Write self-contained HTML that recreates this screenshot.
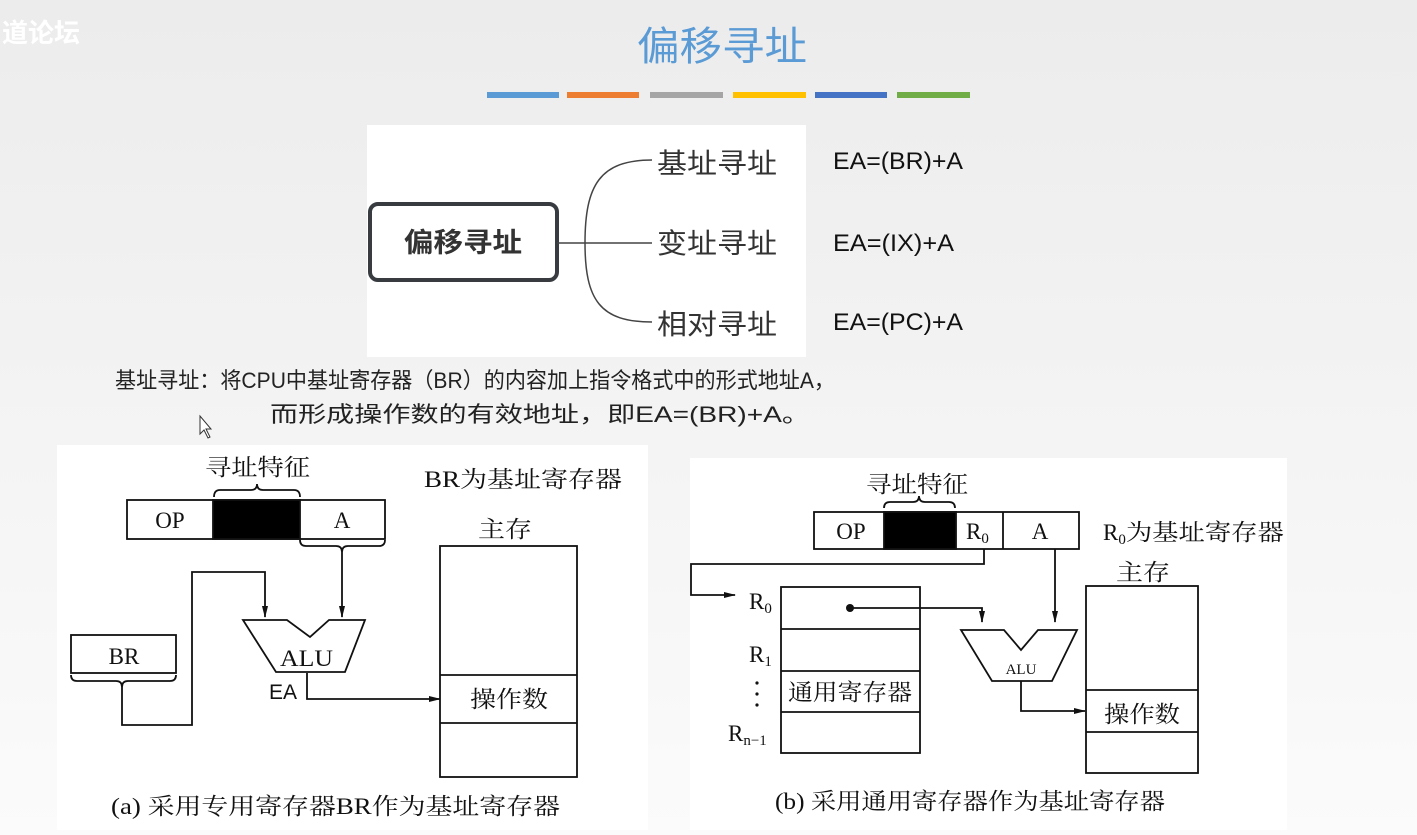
<!DOCTYPE html>
<html><head><meta charset="utf-8"><style>
html,body{margin:0;padding:0;width:1417px;height:835px;overflow:hidden}
svg{display:block}
.s{font-family:"Liberation Serif","Noto Serif CJK SC",serif;fill:#111}
.k{font-family:"Liberation Sans","Noto Sans CJK SC",sans-serif}
</style></head><body>
<svg width="1417" height="835" viewBox="0 0 1417 835" xmlns="http://www.w3.org/2000/svg">
<defs>
<linearGradient id="bg" x1="0" y1="0" x2="0" y2="1"><stop offset="0" stop-color="#ececec"/><stop offset="1" stop-color="#fbfbfb"/></linearGradient>
<marker id="ar" markerWidth="12" markerHeight="8" refX="11" refY="4" orient="auto" markerUnits="userSpaceOnUse"><path d="M0,1 L12,4 L0,7 Z" fill="#111"/></marker>
</defs>
<rect width="1417" height="835" fill="url(#bg)"/>
<text x="2" y="42" class="k" font-size="26" fill="#fff" font-weight="bold">道论坛</text>
<text x="722" y="60" text-anchor="middle" class="k" font-size="40" fill="#5b9bd5" textLength="170" lengthAdjust="spacingAndGlyphs">偏移寻址</text>
<g>
<rect x="487" y="92" width="72" height="6" fill="#5b9bd5"/>
<rect x="567" y="92" width="72" height="6" fill="#ed7d31"/>
<rect x="650" y="92" width="73" height="6" fill="#a5a5a5"/>
<rect x="733" y="92" width="73" height="6" fill="#ffc000"/>
<rect x="815" y="92" width="72" height="6" fill="#4472c4"/>
<rect x="897" y="92" width="73" height="6" fill="#70ad47"/>
</g>
<rect x="367" y="125" width="439" height="232" fill="#fff"/>
<rect x="370" y="204" width="187" height="76" rx="8" fill="#fff" stroke="#383c40" stroke-width="4"/>
<text x="463" y="252" text-anchor="middle" class="k" font-size="27" font-weight="bold" fill="#333" textLength="118" lengthAdjust="spacingAndGlyphs">偏移寻址</text>
<g fill="none" stroke="#444" stroke-width="1.5">
<path d="M557,243 H652"/>
<path d="M652,160 C600,160 585,185 585,243 C585,300 600,322 652,322"/>
</g>
<g class="k" font-size="28" fill="#333">
<text x="657" y="173" textLength="120" lengthAdjust="spacingAndGlyphs">基址寻址</text>
<text x="657" y="253" textLength="120" lengthAdjust="spacingAndGlyphs">变址寻址</text>
<text x="657" y="334" textLength="120" lengthAdjust="spacingAndGlyphs">相对寻址</text>
</g>
<g class="k" font-size="24" fill="#111">
<text x="833" y="169" textLength="130" lengthAdjust="spacingAndGlyphs">EA=(BR)+A</text>
<text x="833" y="251" textLength="121" lengthAdjust="spacingAndGlyphs">EA=(IX)+A</text>
<text x="833" y="330" textLength="130" lengthAdjust="spacingAndGlyphs">EA=(PC)+A</text>
</g>
<text x="115" y="388" class="k" font-size="22" fill="#222" textLength="720" lengthAdjust="spacingAndGlyphs">基址寻址：将CPU中基址寄存器（BR）的内容加上指令格式中的形式地址A，</text>
<text x="270" y="422" class="k" font-size="22" fill="#222" textLength="540" lengthAdjust="spacingAndGlyphs">而形成操作数的有效地址，即EA=(BR)+A。</text>

<!-- left diagram -->
<rect x="57" y="445" width="591" height="385" fill="#fff"/>
<g fill="none" stroke="#111" stroke-width="1.8">
<text x="205" y="475" class="s" font-size="23" stroke="none" textLength="105" lengthAdjust="spacingAndGlyphs">寻址特征</text>
<path d="M214,497 Q214,490 220,490 H251 Q257,490 257,484 Q257,490 263,490 H294 Q300,490 300,497"/>
<rect x="127" y="500" width="258" height="39"/>
<rect x="213" y="500" width="87" height="39" fill="#000"/>
<path d="M300,540 Q300,546 306,546 H336 Q342,546 342,552 Q342,546 348,546 H379 Q385,546 385,540"/>
<path d="M342,552 V617" marker-end="url(#ar)"/>
<path d="M122,687 V725 H192 V572 H265 V617" marker-end="url(#ar)"/>
<path d="M71,675 Q71,681 77,681 H116 Q122,681 122,687 Q122,681 128,681 H170 Q176,681 176,675"/>
<rect x="71" y="635" width="105" height="38"/>
<path d="M243,620 H287 L310,637 L329,620 H365 L345,672 H276 Z"/>
<path d="M307,673 V699 H440" marker-end="url(#ar)"/>
<rect x="440" y="546" width="137" height="231"/>
<path d="M440,675 H577 M440,723 H577"/>
</g>
<g class="s" font-size="23">
<text x="170" y="528" text-anchor="middle">OP</text>
<text x="342" y="528" text-anchor="middle">A</text>
<text x="124" y="664" text-anchor="middle">BR</text>
<text x="280" y="666" textLength="53" lengthAdjust="spacingAndGlyphs">ALU</text>
<text x="470" y="707" textLength="78" lengthAdjust="spacingAndGlyphs">操作数</text>
<text x="478" y="537" textLength="54" lengthAdjust="spacingAndGlyphs">主存</text>
<text x="424" y="487" textLength="198" lengthAdjust="spacingAndGlyphs">BR为基址寄存器</text>
<text x="111" y="814" textLength="449" lengthAdjust="spacingAndGlyphs">(a) 采用专用寄存器BR作为基址寄存器</text>
</g>
<text x="269" y="699" class="k" font-size="21" fill="#111">EA</text>

<!-- right diagram -->
<rect x="690" y="458" width="597" height="372" fill="#fff"/>
<g fill="none" stroke="#111" stroke-width="1.8">
<path d="M884,508 Q884,502 890,502 H913 Q919,502 919,496 Q919,502 925,502 H949 Q955,502 955,508"/>
<rect x="814" y="512" width="265" height="37"/>
<rect x="884" y="512" width="72" height="37" fill="#000"/>
<path d="M1003,512 V549"/>
<path d="M984,549 V564 H691 V595 H735" marker-end="url(#ar)"/>
<rect x="781" y="587" width="139" height="166"/>
<path d="M781,629 H920 M781,671 H920 M781,712 H920"/>
<path d="M850,608 H982 V622" marker-end="url(#ar)"/>
<path d="M1055,549 V622" marker-end="url(#ar)"/>
<path d="M961,630 H1004 L1021,650 L1038,630 H1077 L1052,681 H992 Z"/>
<path d="M1021,681 V711 H1085" marker-end="url(#ar)"/>
<rect x="1086" y="586" width="112" height="187"/>
<path d="M1086,690 H1198 M1086,732 H1198"/>
</g>
<circle cx="850" cy="608" r="4" fill="#111"/>
<g class="s" font-size="23">
<text x="866" y="492" textLength="102" lengthAdjust="spacingAndGlyphs">寻址特征</text>
<text x="851" y="539" text-anchor="middle">OP</text>
<text x="966" y="539">R<tspan font-size="15" dy="4">0</tspan></text>
<text x="1040" y="539" text-anchor="middle">A</text>
<text x="1103" y="540">R<tspan font-size="15" dy="4">0</tspan><tspan dy="-4" textLength="158" lengthAdjust="spacingAndGlyphs">为基址寄存器</tspan></text>
<text x="1116" y="580" textLength="54" lengthAdjust="spacingAndGlyphs">主存</text>
<text x="749" y="609">R<tspan font-size="15" dy="4">0</tspan></text>
<text x="749" y="662">R<tspan font-size="15" dy="4">1</tspan></text>
<text x="728" y="741">R<tspan font-size="15" dy="4">n−1</tspan></text>
<text x="788" y="700" textLength="124" lengthAdjust="spacingAndGlyphs">通用寄存器</text>
<text x="1104" y="722" textLength="76" lengthAdjust="spacingAndGlyphs">操作数</text>
<text x="775" y="809" textLength="390" lengthAdjust="spacingAndGlyphs">(b) 采用通用寄存器作为基址寄存器</text>
<text x="1021" y="674" text-anchor="middle" font-size="15">ALU</text>
</g>
<g fill="#111"><circle cx="757" cy="683" r="1.6"/><circle cx="757" cy="694" r="1.6"/><circle cx="757" cy="705" r="1.6"/></g>
<path d="M200,416 V434 L204,430 L208,438 L210,437 L206,429 L211,429 Z" fill="#fff" stroke="#333" stroke-width="1"/>
</svg>
</body></html>
